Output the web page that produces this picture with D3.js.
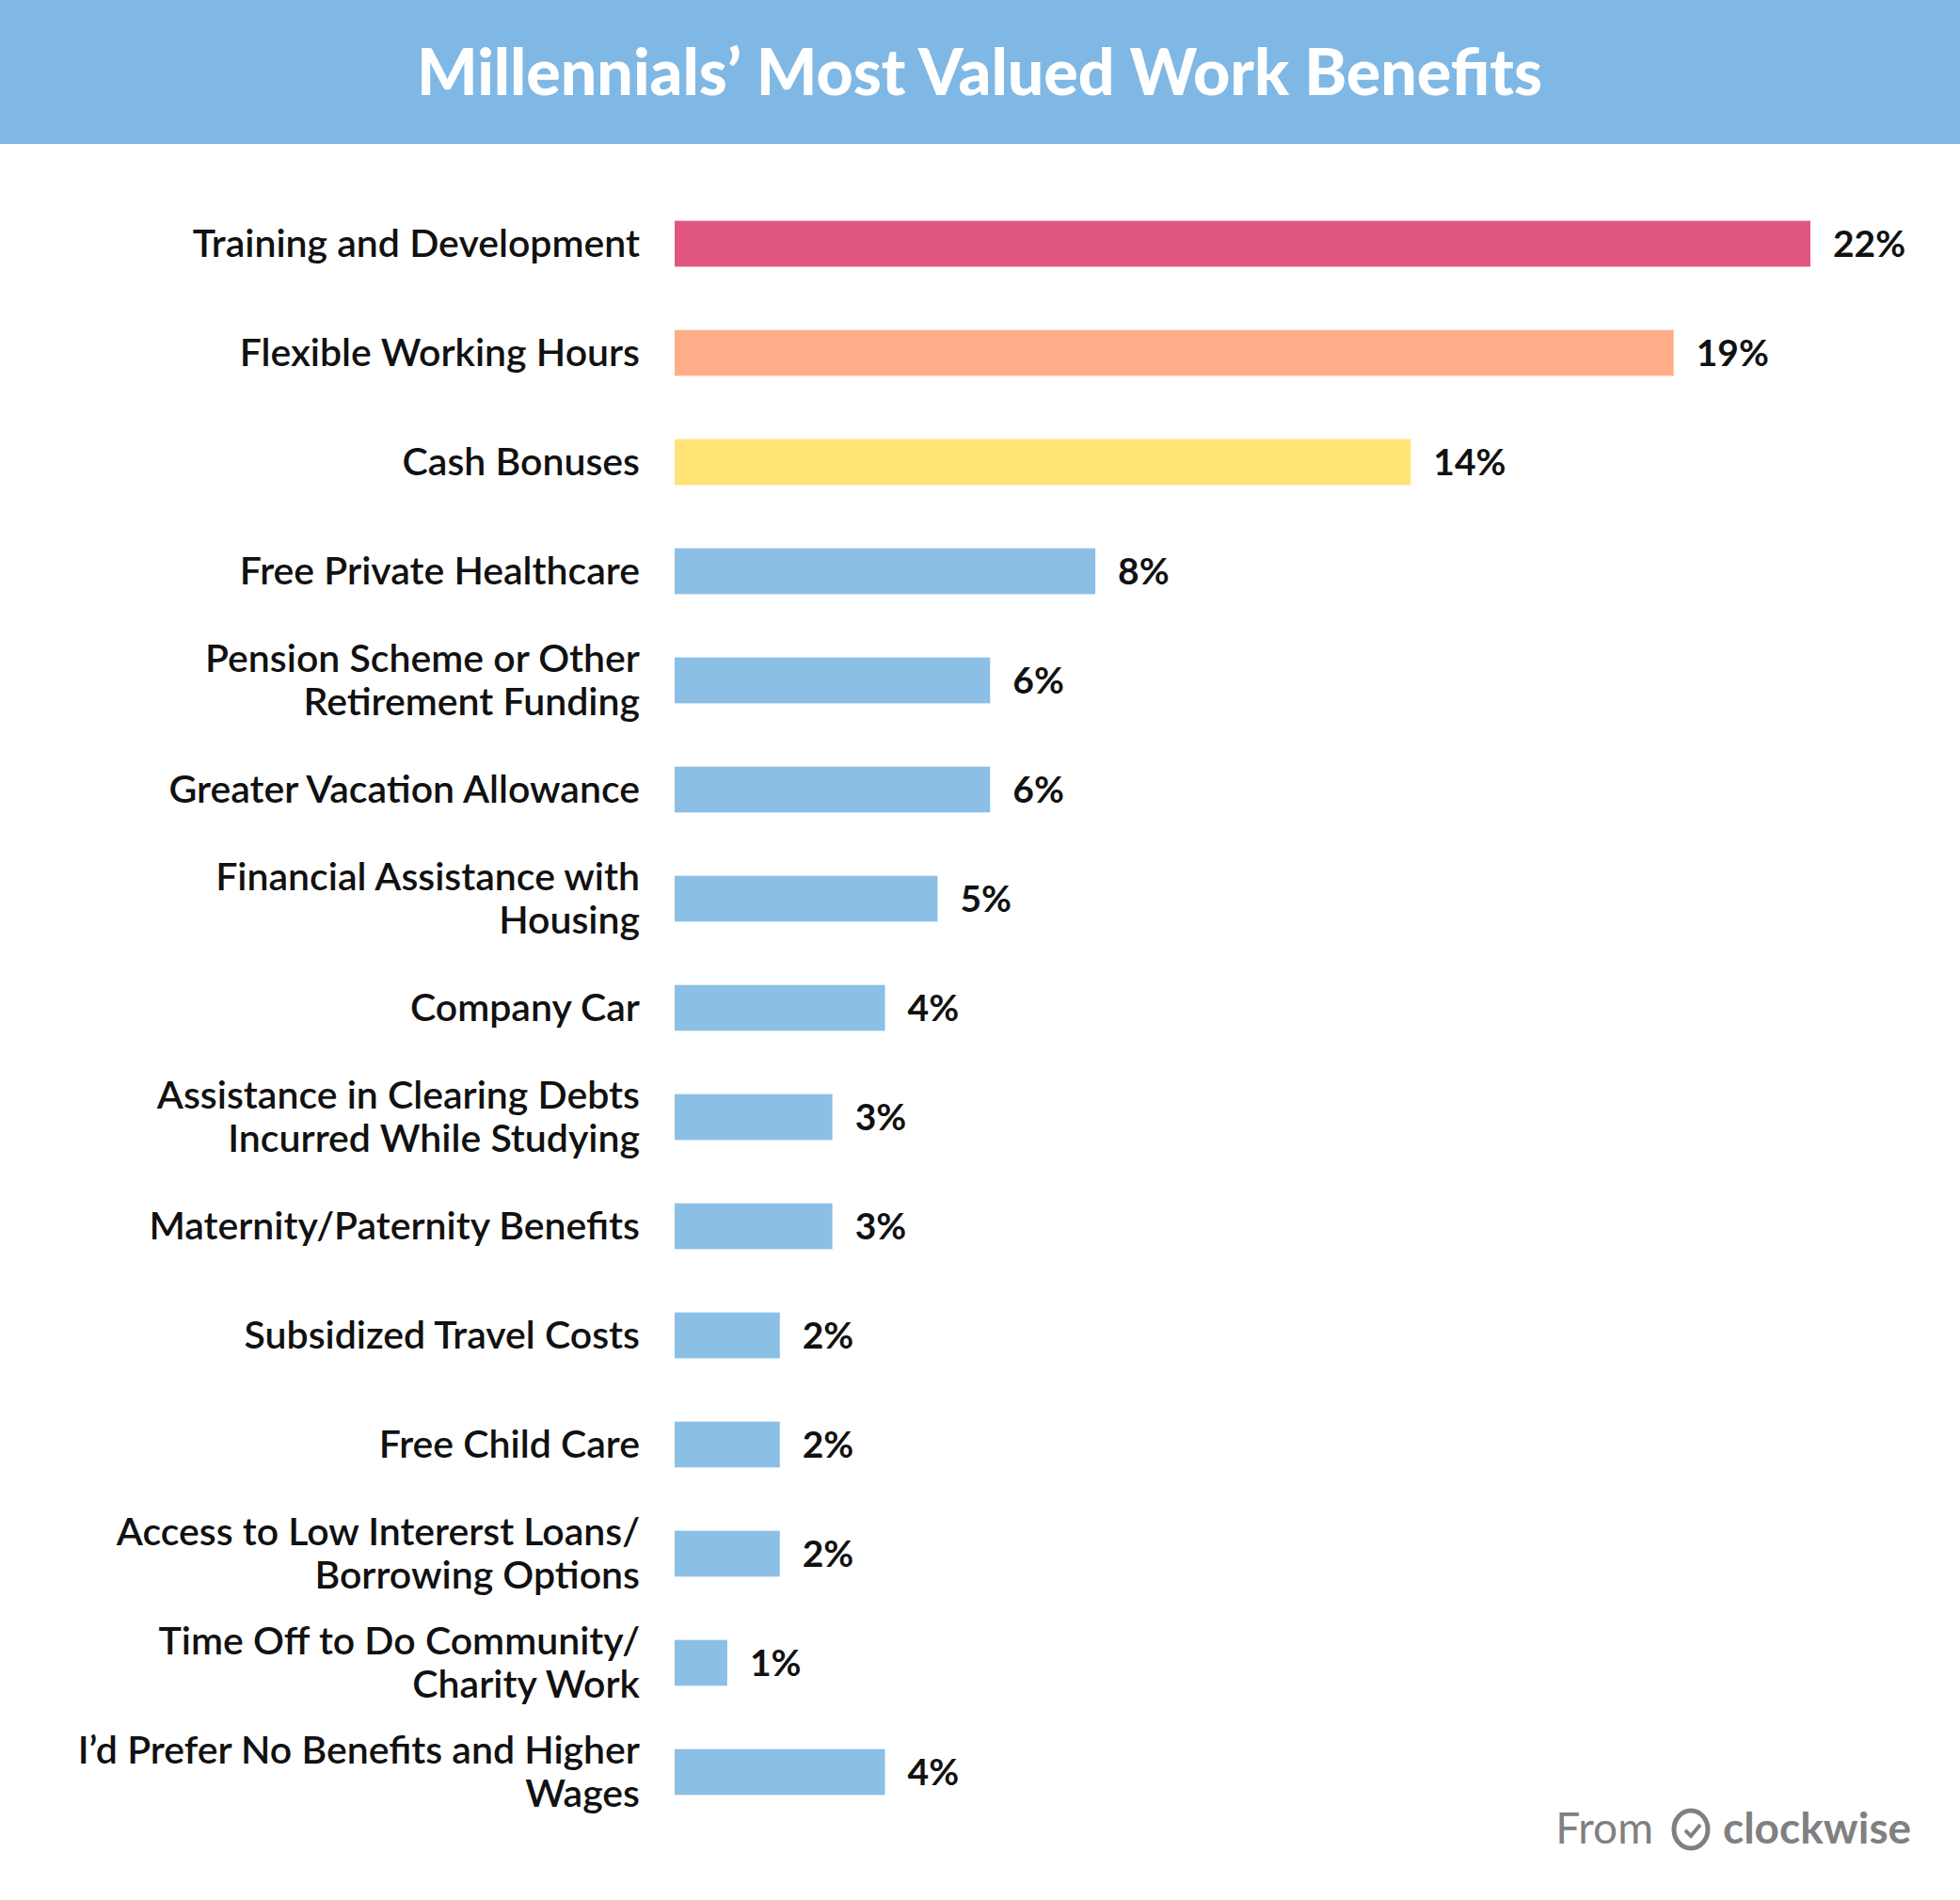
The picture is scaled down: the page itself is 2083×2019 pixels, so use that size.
<!DOCTYPE html>
<html><head><meta charset="utf-8">
<script src="https://cdn.jsdelivr.net/npm/d3@7"></script>
<style>body{margin:0;background:#fff}</style></head>
<body><svg id="c" width="2083" height="2019"></svg>
<script>
const categories = [
 ["Training and Development"],["Flexible Working Hours"],["Cash Bonuses"],["Free Private Healthcare"],
 ["Pension Scheme or Other","Retirement Funding"],["Greater Vacation Allowance"],
 ["Financial Assistance with","Housing"],["Company Car"],
 ["Assistance in Clearing Debts","Incurred While Studying"],["Maternity/Paternity Benefits"],
 ["Subsidized Travel Costs"],["Free Child Care"],["Access to Low Intererst Loans/","Borrowing Options"],
 ["Time Off to Do Community/","Charity Work"],["I’d Prefer No Benefits and Higher","Wages"]];
const values = [21.6,19,14,8,6,6,5,4,3,3,2,2,2,1,4];
const valueLabels = ["22%","19%","14%","8%","6%","6%","5%","4%","3%","3%","2%","2%","2%","1%","4%"];
const colors = ["#e0567f","#ffad88","#ffe475"];
const defaultColor = "#8bbfe6";

const svg = d3.select("#c");
const font = "Lato, 'Open Sans', sans-serif";
svg.append("rect").attr("width",2083).attr("height",153).attr("fill","#7fb8e4");
svg.append("text").attr("x",1041).attr("y",101).attr("text-anchor","middle")
  .attr("font-family",font).attr("font-weight",900).attr("font-size",68).attr("fill","#fff")
  .text("Millennials’ Most Valued Work Benefits");

const x = d3.scaleLinear().domain([0,21.6]).range([717,1924]);
const y = d3.scaleBand().domain(d3.range(values.length)).range([201,1941]).paddingInner(0.58).paddingOuter(0.29);
const g = svg.append("g");
values.forEach((v,i)=>{
  const cy = y(i)+y.bandwidth()/2;
  g.append("rect").attr("x",x(0)).attr("y",y(i)).attr("width",x(v)-x(0)).attr("height",y.bandwidth())
   .attr("fill",colors[i]||defaultColor);
  g.append("text").attr("x",x(v)+24).attr("y",cy+14).attr("font-family",font).attr("font-weight",700)
   .attr("font-size",39).attr("fill","#111").text(valueLabels[i]);
  const lines = categories[i];
  const t = g.append("text").attr("text-anchor","end").attr("font-family",font).attr("font-weight",600)
   .attr("font-size",41).attr("fill","#111");
  lines.forEach((l,j)=>{
    t.append("tspan").attr("x",680).attr("y",cy+14+(j-(lines.length-1)/2)*46).text(l);
  });
});
// footer
const f = svg.append("g").attr("fill","#808080").attr("font-family",font).attr("font-size",46);
f.append("text").attr("x",1757).attr("y",1959).attr("text-anchor","end").text("From");
f.append("ellipse").attr("cx",1797).attr("cy",1944).attr("rx",18).attr("ry",20).attr("fill","none").attr("stroke","#808080").attr("stroke-width",5);
f.append("path").attr("d","M1791,1945 l6,6 l10,-12").attr("fill","none").attr("stroke","#808080").attr("stroke-width",4);
f.append("text").attr("x",1831).attr("y",1959).attr("font-weight",700).text("clockwise");
</script></body></html>
